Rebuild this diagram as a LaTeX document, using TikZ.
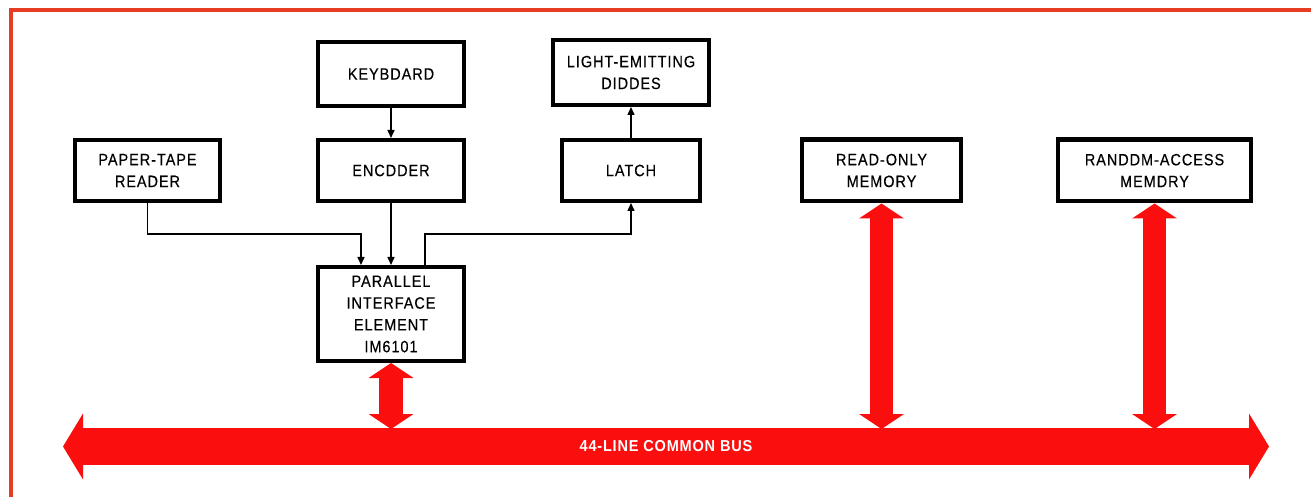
\documentclass[tikz,border=0pt]{standalone}
\usepackage{fontspec}
\setmainfont{Liberation Sans}[LetterSpace=6, FakeStretch=0.88, FakeBold=0.4]
\newfontfamily\busfont{Liberation Sans}[LetterSpace=5, FakeStretch=0.92]
\usepackage{xcolor}
\usepackage{tikz}
\usetikzlibrary{arrows.meta, positioning}
\definecolor{busred}{RGB}{250,14,14}
\definecolor{framered}{RGB}{230,60,36}

\begin{document}
\begin{tikzpicture}[
    x=0.3mm, y=-0.3mm,
    box/.style={
        rectangle,
        draw,
        line width=1.3mm,
        minimum width=43.7mm,
        minimum height=18.2mm,
        inner sep=0pt,
        align=center,
        font=\fontsize{14}{18.6}\selectfont
    },
    link/.style={-{Triangle[length=2.4mm, width=2.1mm]}, line width=0.45mm},
    biglink/.style={
        {Triangle[width=13.5mm, length=4.5mm, line width=0pt]}-{Triangle[width=13.5mm, length=4.5mm, line width=0pt]},
        line width=7mm, busred
    },
    busline/.style={
        {Triangle[width=19.8mm, length=6mm, line width=0pt]}-{Triangle[width=19.8mm, length=6mm, line width=0pt]},
        line width=11.1mm, busred
    },
    bustext/.style={text=white, font=\busfont\bfseries\fontsize{13.5}{15}\selectfont}
]

\useasboundingbox (0,0) rectangle (1311,497);
\draw[framered, line width=1.4mm] (11,497) -- (11,10) -- (1311,10);

\node[box] (encoder) at (391,170.5) {ENCDDER};

\node[box, minimum width=43.4mm, left=28.2mm of encoder] (tape) {
    PAPER-TAPE\\READER
};

\node[box, minimum width=41.3mm, right=28.2mm of encoder] (latch) {LATCH};

\node[box, minimum width=47.6mm, minimum height=18.5mm, right=29.4mm of latch] (rom) {
    READ-ONLY\\MEMORY
};

\node[box, minimum width=57.8mm, minimum height=18.5mm, right=27.9mm of rom] (ram) {
    RANDDM-ACCESS\\MEMDRY
};

\node[box, minimum height=19.1mm, above=9mm of encoder] (keyboard) {KEYBDARD};

\node[box, minimum width=46.7mm, minimum height=19.4mm, above=9.3mm of latch] (led) {
    LIGHT-EMITTING\\DIDDES
};

\node[box, minimum height=28.1mm, below=18.6mm of encoder] (pie) {
    PARALLEL\\INTERFACE\\ELEMENT\\IM6101
};

\coordinate (busL) at (63,446.5);
\coordinate (busR) at (1269,446.5);
\coordinate (busN) at (666,429);

\draw[link] (keyboard) -- (encoder);
\draw[link] (encoder) -- (pie);
\draw[link] (latch) -- (led);
\draw[link] (tape.south) |- ([xshift=-9mm, yshift=9.3mm]pie.north) -- ([xshift=-9mm]pie.north);
\draw[link] ([xshift=10.2mm]pie.north) |- ([yshift=-9.3mm]latch.south) -- (latch.south);

\draw[busline] (busL) -- node[bustext] {44-LINE COMMON BUS} (busR);

\draw[biglink] (pie.south) -- (pie.south |- busN);
\draw[biglink] (rom.south) -- (rom.south |- busN);
\draw[biglink] (ram.south) -- (ram.south |- busN);

\end{tikzpicture}
\end{document}
